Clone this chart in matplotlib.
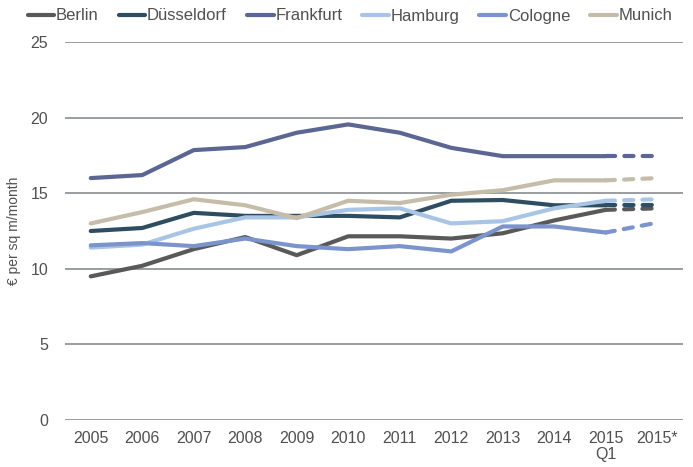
import matplotlib
matplotlib.use("Agg")
import matplotlib.pyplot as plt

plt.rcParams['font.family'] = ['Liberation Sans', 'DejaVu Sans']

categories = ["2005", "2006", "2007", "2008", "2009", "2010", "2011", "2012", "2013", "2014", "2015\nQ1", "2015*"]

berlin     = [9.5, 10.2, 11.3, 12.1, 10.9, 12.15, 12.15, 12.0, 12.35, 13.2, 13.9, 14.0]
duesseldorf= [12.5, 12.7, 13.7, 13.5, 13.5, 13.5, 13.4, 14.5, 14.55, 14.2, 14.2, 14.2]
frankfurt  = [16.0, 16.2, 17.85, 18.05, 19.0, 19.55, 19.0, 18.0, 17.45, 17.45, 17.45, 17.45]
hamburg    = [11.4, 11.6, 12.65, 13.4, 13.4, 13.9, 14.0, 13.0, 13.15, 14.0, 14.5, 14.6]
cologne    = [11.55, 11.7, 11.5, 12.0, 11.5, 11.3, 11.5, 11.15, 12.8, 12.8, 12.4, 13.05]
munich     = [13.0, 13.75, 14.6, 14.2, 13.35, 14.5, 14.35, 14.9, 15.2, 15.85, 15.85, 16.0]

series = [
    ("Berlin", berlin, "#595959"),
    ("Düsseldorf", duesseldorf, "#2e4d61"),
    ("Frankfurt", frankfurt, "#5c6693"),
    ("Hamburg", hamburg, "#a8c5e6"),
    ("Cologne", cologne, "#7b94cb"),
    ("Munich", munich, "#c5bda9"),
]

W, H = 693, 467
fig = plt.figure(figsize=(W/100, H/100), dpi=100)
ax = fig.add_axes([65/W, 1-420/H, (683-65)/W, (420-42)/H])

x = list(range(len(categories)))
n = len(categories)
for name, vals, col in series:
    ax.plot(x[:n-1], vals[:n-1], color=col, lw=3, solid_capstyle='round',
            solid_joinstyle='round', label=name, zorder=3)
    ax.plot(x[n-2:], vals[n-2:], color=col, lw=3, ls=(0, (2.2, 2.2)),
            dash_capstyle='round', zorder=3)

ax.set_ylim(0, 25)
ax.set_xlim(-0.5, 11.5)
ax.set_yticks([0, 5, 10, 15, 20, 25])
ax.set_xticks(x)
ax.set_xticklabels(categories, linespacing=1.1)
ax.grid(axis='y', color='#9a9da0', lw=1.4, zorder=0)
ax.set_axisbelow(True)
for s in ax.spines.values():
    s.set_visible(False)
ax.tick_params(length=0, labelsize=11.5, colors='#505050', pad=8)
ax.tick_params(axis='y', pad=12)
ax.set_ylabel("€ per sq m/month", fontsize=10, color='#505050')
ax.yaxis.set_label_coords((21-65)/(683-65), 0.5)

leg = ax.legend(loc='center', bbox_to_anchor=((350-65)/618, 1 + (42-16)/378), ncol=6, frameon=False,
                fontsize=12, handlelength=1.6, handletextpad=0.1, columnspacing=1.2,
                labelcolor='#505050', borderaxespad=0, borderpad=0)

fig.savefig("out.png", dpi=100)
